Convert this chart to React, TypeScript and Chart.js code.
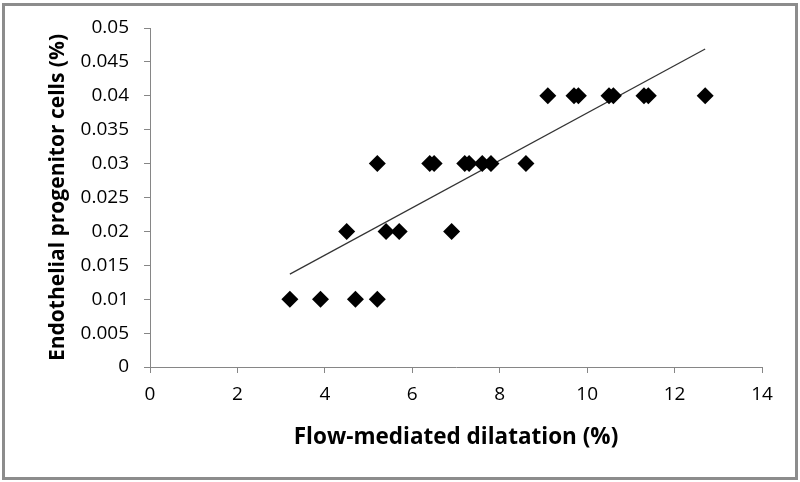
import React, { useEffect, useRef } from "react";
import { Chart, registerables } from "chart.js";

Chart.register(...registerables);

// Flow-mediated dilatation (%) vs Endothelial progenitor cells (%)
const fmdValues = [
  3.2, 3.9, 4.7, 5.2,
  4.5, 5.4, 5.7, 6.9,
  5.2, 6.4, 6.5, 7.2, 7.3, 7.6, 7.8, 8.6,
  9.1, 9.7, 9.8, 10.5, 10.6, 11.3, 11.4, 12.7,
];
const epcValues = [
  0.01, 0.01, 0.01, 0.01,
  0.02, 0.02, 0.02, 0.02,
  0.03, 0.03, 0.03, 0.03, 0.03, 0.03, 0.03, 0.03,
  0.04, 0.04, 0.04, 0.04, 0.04, 0.04, 0.04, 0.04,
];
// linear trend line end points
const trendX = [3.2, 12.7];
const trendY = [0.0137, 0.0469];

const xTitle = "Flow-mediated dilatation (%)";
const yTitle = "Endothelial progenitor cells (%)";
const xRange = [0, 14, 2];
const yRange = [0, 0.05, 0.005];

const FONT = "'Open Sans', 'DejaVu Sans', sans-serif";
const AXIS_GRAY = "#868686";

const framePlugin = {
  id: "frame",
  beforeDraw(chart: any) {
    const { ctx, width, height } = chart;
    ctx.save();
    ctx.fillStyle = "#ffffff";
    ctx.fillRect(0, 0, width, height);
    ctx.strokeStyle = "#8c8c8c";
    ctx.lineWidth = 3;
    ctx.strokeRect(3.5, 4.5, width - 7, height - 8);
    ctx.restore();
  },
};

export default function App() {
  const ref = useRef<HTMLCanvasElement | null>(null);

  useEffect(() => {
    document.body.style.margin = "0";
    const canvas = ref.current;
    if (!canvas) return;
    const points = fmdValues.map((x, i) => ({ x, y: epcValues[i] }));
    const trend = trendX.map((x, i) => ({ x, y: trendY[i] }));
    const chart = new Chart(canvas, {
      type: "scatter",
      data: {
        datasets: [
          {
            label: "EPC",
            data: points,
            pointStyle: "rectRot",
            pointRadius: 8.5,
            pointHoverRadius: 8.5,
            backgroundColor: "#000000",
            borderColor: "#000000",
            borderWidth: 0,
          },
          {
            label: "Trend",
            type: "line",
            data: trend,
            showLine: true,
            borderColor: "#333333",
            borderWidth: 1.2,
            pointRadius: 0,
            fill: false,
          } as any,
        ],
      },
      options: {
        responsive: false,
        animation: false,
        layout: { padding: { left: 0, top: 28, right: 38, bottom: 0 } },
        plugins: {
          legend: { display: false },
          tooltip: { enabled: false },
          title: { display: false },
        },
        scales: {
          x: {
            type: "linear",
            min: xRange[0],
            max: xRange[1],
            afterFit: (s: any) => {
              s.height = 115;
            },
            ticks: {
              stepSize: xRange[2],
              color: "#000000",
              font: { family: FONT, size: 19 },
              padding: 10,
            },
            grid: {
              display: true,
              drawOnChartArea: false,
              drawTicks: true,
              tickLength: 6,
              color: AXIS_GRAY,
            },
            border: { display: true, color: AXIS_GRAY, width: 1 },
            title: {
              display: true,
              text: xTitle,
              color: "#000000",
              font: { family: FONT, size: 22.5, weight: "bold" },
              padding: { top: 0, bottom: 31 },
            },
          },
          y: {
            type: "linear",
            min: yRange[0],
            max: yRange[1],
            afterFit: (s: any) => {
              s.width = 150;
            },
            ticks: {
              stepSize: yRange[2],
              color: "#000000",
              font: { family: FONT, size: 19 },
              padding: 15,
              callback: (v: any) => String(Number(Number(v).toFixed(3))),
            },
            grid: {
              display: true,
              drawOnChartArea: false,
              drawTicks: true,
              tickLength: 6,
              color: AXIS_GRAY,
            },
            border: { display: true, color: AXIS_GRAY, width: 1 },
            title: {
              display: true,
              text: yTitle,
              color: "#000000",
              font: { family: FONT, size: 21, weight: "bold" },
              padding: { top: 45, bottom: 0 },
            },
          },
        },
      },
      plugins: [framePlugin],
    });
    return () => chart.destroy();
  }, []);

  return (
    <canvas
      ref={ref}
      width={800}
      height={482}
      style={{ display: "block", width: 800, height: 482 }}
    />
  );
}
